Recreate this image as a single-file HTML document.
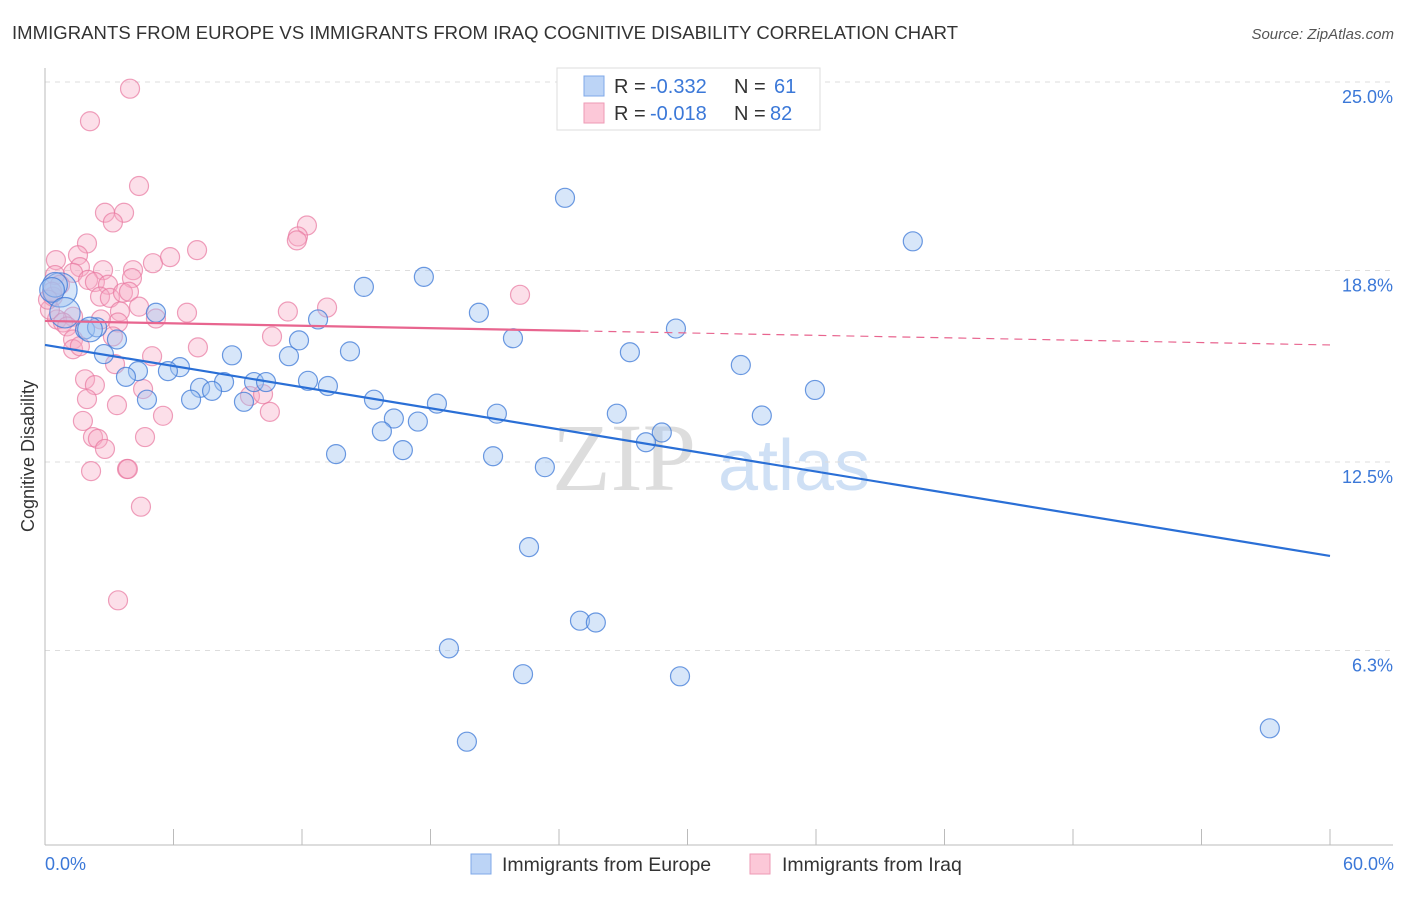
<!DOCTYPE html>
<html><head><meta charset="utf-8"><style>
body{margin:0;background:#fff;font-family:"Liberation Sans",sans-serif;}
</style></head><body>
<svg id="chart" width="1406" height="892" xmlns="http://www.w3.org/2000/svg">
<text x="12" y="39" font-size="18.5" fill="#333" textLength="946">IMMIGRANTS FROM EUROPE VS IMMIGRANTS FROM IRAQ COGNITIVE DISABILITY CORRELATION CHART</text>
<text x="1394" y="39" font-size="15" fill="#555" font-style="italic" text-anchor="end">Source: ZipAtlas.com</text>
<text transform="translate(34,456) rotate(-90)" font-size="18" fill="#333" text-anchor="middle">Cognitive Disability</text>
<g>
<text x="552" y="490" font-size="96" fill="#ddd" font-family="Liberation Serif,serif">ZIP</text>
<text x="718" y="490" font-size="72" fill="#cfe0f5">atlas</text>
</g>
<g id="grid"></g><g id="axes"></g><g id="pts"></g><g id="lines"></g>
<g>
<rect x="557" y="68" width="263" height="62" fill="#fff" stroke="#ddd"/>
<rect x="584" y="76" width="20" height="20" fill="#bcd4f6" stroke="#7fa8e8"/>
<rect x="584" y="103" width="20" height="20" fill="#fcc8d8" stroke="#ee9ab5"/>
<g font-size="20">
<text x="614" y="93" fill="#333">R =</text><text x="650" y="93" fill="#3b78d8">-0.332</text>
<text x="734" y="93" fill="#333">N =</text><text x="774" y="93" fill="#3b78d8">61</text></g>
<g font-size="20">
<text x="614" y="120" fill="#333">R =</text><text x="650" y="120" fill="#3b78d8">-0.018</text>
<text x="734" y="120" fill="#333">N =</text><text x="770" y="120" fill="#3b78d8">82</text></g>
</g>
<g>
<rect x="471" y="854" width="20" height="20" fill="#bcd4f6" stroke="#7fa8e8"/>
<text x="502" y="871" font-size="19.5" fill="#333">Immigrants from Europe</text>
<rect x="750" y="854" width="20" height="20" fill="#fcc8d8" stroke="#ee9ab5"/>
<text x="782" y="871" font-size="19.5" fill="#333">Immigrants from Iraq</text>
</g>
</svg>
<script>
const yTicks=[25,18.8,12.5,6.3];
const yTickLabels=["25.0%","18.8%","12.5%","6.3%"];
const xTickLabels=["0.0%","60.0%"];
const europeX=[24.28,40.52,17.69,14.89,20.26,12.75,5.18,29.46,21.85,1.87,2.43,3.36,2.75,8.73,11.39,11.86,14.24,27.31,32.49,6.30,5.74,4.34,3.78,12.28,9.76,10.32,8.36,7.24,7.80,13.21,35.95,6.82,4.76,9.29,15.36,18.30,26.70,21.10,16.29,17.41,33.47,15.73,28.80,28.06,16.71,13.59,20.92,23.34,22.60,24.98,25.72,18.86,22.32,29.65,19.70,57.19,31.05,0.70,0.47,0.33,0.93,2.10];
const europeY=[21.19,19.76,18.59,18.26,17.41,17.19,17.41,16.89,16.57,16.86,16.93,16.53,16.05,16.01,15.98,16.50,16.14,16.11,15.69,15.62,15.49,15.49,15.30,15.17,15.13,15.13,15.13,14.94,14.84,15.00,14.87,14.55,14.55,14.48,14.55,14.42,14.09,14.09,13.93,13.83,14.03,13.51,13.47,13.15,12.89,12.76,12.69,12.33,9.70,7.28,7.22,6.37,5.52,5.45,3.30,3.74,24.35,18.16,18.33,18.16,17.41,16.86];
const europeSize=[1,1,1,1,1,1,1,1,1,1,1,1,1,1,1,1,1,1,1,1,1,1,1,1,1,1,1,1,1,1,1,1,1,1,1,1,1,1,1,1,1,1,1,1,1,1,1,1,1,1,1,1,1,1,1,1,1,1.8,1.3,1.3,1.6,1.3];
const iraqX=[3.97,2.10,4.39,2.80,3.69,3.17,12.23,11.81,1.96,0.51,1.54,1.63,2.71,4.11,5.04,5.84,7.10,1.31,2.01,2.33,2.94,4.06,2.57,3.03,3.64,3.92,4.39,3.50,6.63,3.41,5.18,2.61,1.31,0.56,0.23,0.37,0.84,1.03,1.31,1.31,1.63,3.17,7.14,5.00,3.27,11.76,11.34,13.17,10.60,1.87,2.33,1.96,3.36,4.58,1.77,2.24,2.47,2.80,5.51,4.67,3.83,3.87,2.15,9.57,10.18,10.50,4.48,3.41,22.18,0.47,0.70,0.33,0.14];
const iraqY=[24.78,23.71,21.58,20.70,20.70,20.38,20.28,19.92,19.69,19.14,19.30,18.91,18.81,18.81,19.04,19.24,19.47,18.72,18.49,18.42,18.33,18.55,17.94,17.90,18.07,18.10,17.61,17.45,17.41,17.09,17.22,17.19,17.28,17.19,17.51,17.94,17.09,16.96,16.53,16.21,16.31,16.63,16.27,15.98,15.72,19.79,17.45,17.58,16.63,15.22,15.03,14.57,14.37,14.90,13.85,13.32,13.26,12.93,14.02,13.32,12.27,12.27,12.20,14.67,14.73,14.15,11.03,7.95,18.00,18.65,18.33,18.10,17.84];
const europeTrend=[16.35,9.41];
const iraqTrend=[17.14,16.35];
const NS="http://www.w3.org/2000/svg";
const xS=v=>45+v*(1285/60);
const yS=v=>82+(25-v)*30.4;
function mk(tag,attrs,parent){const e=document.createElementNS(NS,tag);for(const k in attrs)e.setAttribute(k,attrs[k]);document.getElementById(parent).appendChild(e);return e;}
yTicks.forEach((t,i)=>{
 const l=mk('line',{x1:45,x2:1393,y1:yS(t),y2:yS(t),stroke:'#ddd','stroke-dasharray':'5,5'},'grid');
 
 
 const tx=mk('text',{x:1393,y:yS(t)+21,'font-size':18,fill:'#3b78d8','text-anchor':'end'},'axes');
 tx.textContent=yTickLabels[i];
 
 
});
const ax=mk('line',{x1:45,x2:1393,y1:845,y2:845,stroke:'#bbb'},'axes');


const ay=mk('line',{x1:45,x2:45,y1:68,y2:845,stroke:'#bbb'},'axes');


for(let i=0;i<=10;i++){
 const t=mk('line',{x1:xS(i*6),x2:xS(i*6),y1:829,y2:845,stroke:'#bbb'},'axes');
 
 
}
const xl0=mk('text',{x:45,y:870,'font-size':18,fill:'#3b78d8'},'axes');
xl0.textContent=xTickLabels[0];


const xl1=mk('text',{x:1394,y:870,'font-size':18,fill:'#3b78d8','text-anchor':'end'},'axes');
xl1.textContent=xTickLabels[1];


iraqX.forEach((x,i)=>{
 const c=mk('circle',{cx:xS(x),cy:yS(iraqY[i]),r:9.5,fill:'rgba(246,170,196,0.38)',stroke:'rgba(232,120,160,0.7)','stroke-width':1.2},'pts');
 
 
});
europeX.forEach((x,i)=>{
 const c=mk('circle',{cx:xS(x),cy:yS(europeY[i]),r:9.5*europeSize[i],fill:'rgba(160,196,240,0.42)',stroke:'rgba(60,120,215,0.75)','stroke-width':1.2},'pts');
 
 
});
const bl=mk('line',{x1:xS(0),y1:yS(europeTrend[0]),x2:xS(60),y2:yS(europeTrend[1]),stroke:'#2a6fd6','stroke-width':2.2},'lines');


const pm=v=>iraqTrend[0]+(iraqTrend[1]-iraqTrend[0])*v/60;
const pl=mk('line',{x1:xS(0),y1:yS(pm(0)),x2:xS(25),y2:yS(pm(25)),stroke:'#e8658f','stroke-width':2.2},'lines');


const pd=mk('line',{x1:xS(25),y1:yS(pm(25)),x2:xS(60),y2:yS(pm(60)),stroke:'#e8658f','stroke-width':1.2,'stroke-dasharray':'8,6'},'lines');


</script>
</body></html>
